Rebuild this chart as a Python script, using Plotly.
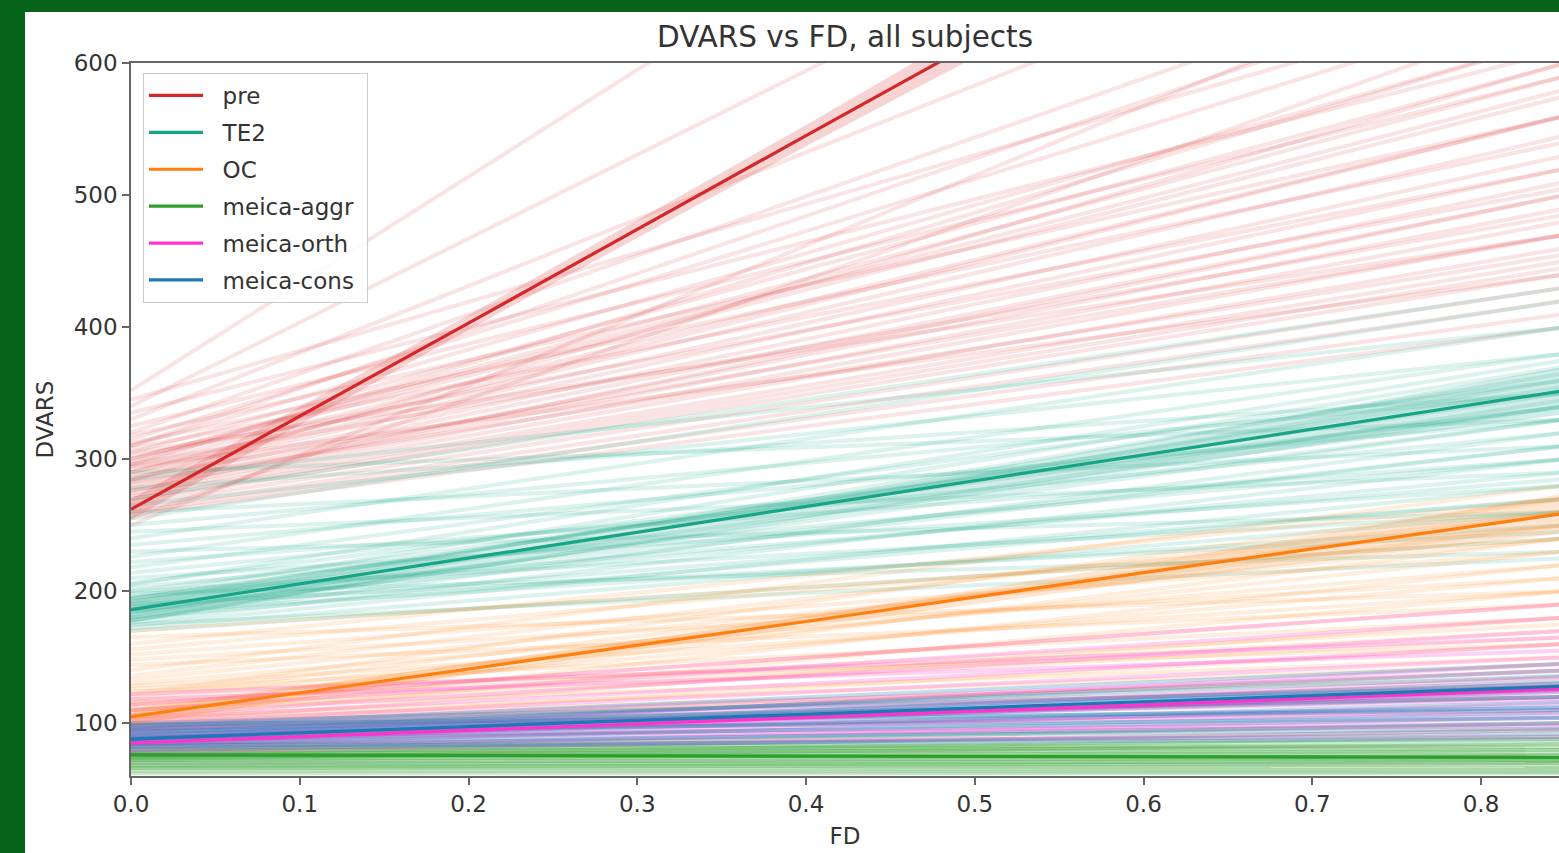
import plotly.graph_objects as go

# ---------------- data ----------------
groups = ["pre", "TE2", "OC", "meica-aggr", "meica-orth", "meica-cons"]
colors = {
    "pre": "#d62728",
    "TE2": "#17a589",
    "OC": "#ff7f0e",
    "meica-aggr": "#2ca02c",
    "meica-orth": "#ff33cc",
    "meica-cons": "#1f77b4",
}
subject_alpha = {
    "pre": 0.13, "TE2": 0.15, "OC": 0.14,
    "meica-aggr": 0.24, "meica-orth": 0.22, "meica-cons": 0.26,
}

# per-subject fitted lines: value at FD=0 and value at FD=0.85
fd_ends = [0.0, 0.85]

pre_start = [352, 340, 330, 320, 315, 310, 305, 300, 298, 295, 292, 290, 288, 285, 283, 280, 278, 276, 274, 272,
             270, 268, 265, 262, 260, 258, 255, 250, 325, 318, 312, 308, 302, 296, 286, 282, 335, 345, 305, 294,
             300, 290, 284, 310, 296, 276]
pre_end = [1040, 880, 760, 700, 650, 620, 600, 590, 575, 560, 545, 530, 520, 510, 500, 490, 480, 470, 460, 450,
           445, 440, 430, 420, 410, 400, 640, 700, 590, 560, 540, 520, 505, 485, 470, 455, 610, 660, 470, 440,
           580, 560, 600, 680, 620, 500]

te2_start = [170, 172, 174, 176, 178, 180, 182, 184, 186, 188, 190, 192, 194, 196, 198, 200, 203, 206, 210, 214,
             218, 222, 226, 230, 235, 240, 245, 250, 255, 260, 265, 270, 278, 285, 290, 175, 180, 185, 190, 195,
             178, 184, 188, 192, 200, 205]
te2_end = [240, 260, 280, 300, 320, 340, 360, 250, 270, 290, 310, 330, 350, 370, 230, 260, 300, 340, 280, 320,
           360, 300, 380, 260, 330, 400, 290, 350, 420, 310, 380, 430, 350, 400, 330, 225, 270, 310, 245, 285,
           345, 330, 365, 355, 340, 375]

oc_start = [95, 98, 100, 102, 104, 106, 108, 110, 112, 114, 116, 118, 120, 122, 124, 126, 128, 130, 133, 136,
            140, 144, 148, 152, 156, 160, 165, 170, 100, 105, 110, 115, 97, 103]
oc_end = [140, 160, 180, 200, 220, 240, 260, 150, 170, 190, 210, 230, 250, 270, 160, 180, 200, 220, 240, 260,
          280, 190, 210, 230, 250, 270, 200, 240, 130, 145, 165, 175, 120, 135]

aggr_start = [62, 64, 66, 68, 70, 72, 74, 76, 78, 80, 82, 84, 73, 75, 77, 79, 70, 72, 74, 76, 66, 68]
aggr_end = [62, 63, 65, 66, 68, 70, 72, 74, 76, 78, 80, 82, 85, 90, 95, 100, 75, 80, 84, 88, 70, 72]

orth_start = [78, 80, 82, 84, 86, 88, 90, 92, 94, 96, 98, 100, 103, 106, 110, 114, 118, 122, 85, 88, 91, 95]
orth_end = [95, 105, 115, 125, 135, 145, 100, 110, 120, 130, 140, 150, 160, 170, 180, 190, 155, 165, 90, 98, 108, 118]

cons_start = [80, 82, 84, 86, 88, 90, 92, 94, 96, 98, 100, 85, 87, 89, 91, 93, 95, 97, 83, 99]
cons_end = [92, 100, 108, 116, 124, 132, 140, 104, 112, 120, 128, 96, 104, 112, 120, 128, 136, 145, 88, 110]

subjects = {
    "pre": (pre_start, pre_end),
    "TE2": (te2_start, te2_end),
    "OC": (oc_start, oc_end),
    "meica-aggr": (aggr_start, aggr_end),
    "meica-orth": (orth_start, orth_end),
    "meica-cons": (cons_start, cons_end),
}

# group regression fits with confidence band
fd_band = [0.0, 0.2, 0.4, 0.6, 0.85]
fit_mean = {
    "pre": [262, 403, 545, 686, 863],
    "TE2": [186, 225, 264, 303, 352],
    "OC": [105, 141, 177, 214, 259],
    "meica-aggr": [76, 75.5, 75, 74.5, 74],
    "meica-orth": [85, 94.6, 104.3, 114, 126],
    "meica-cons": [88, 97.4, 106.8, 116.2, 128],
}
fit_lo = {
    "pre": [254, 398, 537, 672, 840],
    "TE2": [176, 219, 258, 293, 334],
    "OC": [99, 137, 173, 207, 244],
    "meica-aggr": [74, 74, 73.5, 72.5, 71],
    "meica-orth": [83, 93, 102.5, 111.5, 122],
    "meica-cons": [86, 96, 105, 113.5, 124],
}
fit_hi = {
    "pre": [270, 409, 553, 700, 886],
    "TE2": [196, 231, 270, 313, 370],
    "OC": [111, 145, 181, 221, 274],
    "meica-aggr": [78, 77, 76.5, 76.5, 77],
    "meica-orth": [87, 96.2, 106, 116.5, 130],
    "meica-cons": [90, 98.8, 108.6, 118.9, 132],
}

x_ticks = [0.0, 0.1, 0.2, 0.3, 0.4, 0.5, 0.6, 0.7, 0.8]
y_ticks = [100, 200, 300, 400, 500, 600]


def rgba(hex_color, a):
    h = hex_color.lstrip("#")
    r, g, b = int(h[0:2], 16), int(h[2:4], 16), int(h[4:6], 16)
    return f"rgba({r},{g},{b},{a})"


fig = go.Figure()

# faint per-subject lines
for g in groups:
    starts, ends = subjects[g]
    for s, e in zip(starts, ends):
        fig.add_trace(go.Scatter(
            x=fd_ends, y=[s, e], mode="lines",
            line=dict(color=rgba(colors[g], subject_alpha[g]), width=4),
            showlegend=False, hoverinfo="skip", legendgroup=g,
        ))

# confidence bands
for g in groups:
    fig.add_trace(go.Scatter(
        x=fd_band + fd_band[::-1], y=fit_hi[g] + fit_lo[g][::-1],
        mode="lines", fill="toself", fillcolor=rgba(colors[g], 0.2),
        line=dict(width=0), showlegend=False, hoverinfo="skip", legendgroup=g,
    ))

# group mean fits
for g in groups:
    fig.add_trace(go.Scatter(
        x=fd_band, y=fit_mean[g], mode="lines", name="\u00a0\u00a0" + g + "\u00a0", legendgroup=g,
        line=dict(color=colors[g], width=3.2),
    ))

W, H = 1559, 853
ml, mr, mt, mb = 131, 0, 63, 77
pw, ph = W - ml - mr, H - mt - mb


def px_to_paper_x(px):
    return (px - ml) / pw


def px_to_paper_y(py):
    return (H - mb - py) / ph


green = "#05631a"
shapes = [
    dict(type="rect", xref="paper", yref="paper",
         x0=px_to_paper_x(-5), x1=px_to_paper_x(25), y0=px_to_paper_y(H + 5), y1=px_to_paper_y(-5),
         fillcolor=green, line=dict(width=0), layer="above"),
    dict(type="rect", xref="paper", yref="paper",
         x0=px_to_paper_x(-5), x1=px_to_paper_x(W + 5), y0=px_to_paper_y(12), y1=px_to_paper_y(-5),
         fillcolor=green, line=dict(width=0), layer="above"),
]

axis_col = "#666666"
font_col = "#333333"
fig.update_layout(
    width=W, height=H,
    margin=dict(l=ml, r=mr, t=mt, b=mb, pad=0),
    paper_bgcolor="white", plot_bgcolor="white",
    font=dict(family="DejaVu Sans", size=23, color=font_col),
    title=dict(text="DVARS vs FD, all subjects", x=0.5, xref="paper", xanchor="center",
               y=1 - 37 / H, yref="container", yanchor="middle",
               font=dict(size=29.5, color=font_col)),
    xaxis=dict(range=[0, (W - ml) / 1687.5], tickvals=x_ticks, tickformat=".1f",
               showgrid=False, zeroline=False, showline=True, linecolor=axis_col, linewidth=1.5,
               mirror=True, ticks="outside", ticklen=7, tickwidth=1.5, tickcolor=axis_col,
               title=dict(text="FD", standoff=12, font=dict(size=23)), automargin=False),
    yaxis=dict(range=[60, 600], tickvals=y_ticks,
               showgrid=False, zeroline=False, showline=True, linecolor=axis_col, linewidth=1.5,
               ticks="outside", ticklen=7, tickwidth=1.5, tickcolor=axis_col,
               title=dict(text="DVARS", standoff=14, font=dict(size=23)), automargin=False),
    legend=dict(x=px_to_paper_x(143), y=px_to_paper_y(73), xanchor="left", yanchor="top",
                bgcolor="rgba(255,255,255,0.85)", bordercolor="#cccccc", borderwidth=1,
                font=dict(size=23, color=font_col), traceorder="grouped", tracegroupgap=4,
                itemwidth=54),
    shapes=shapes,
)

fig.write_html(
    "out.html",
    config={"displayModeBar": False},
    post_script="document.body.style.margin='0';document.body.style.overflow='hidden';",
)
